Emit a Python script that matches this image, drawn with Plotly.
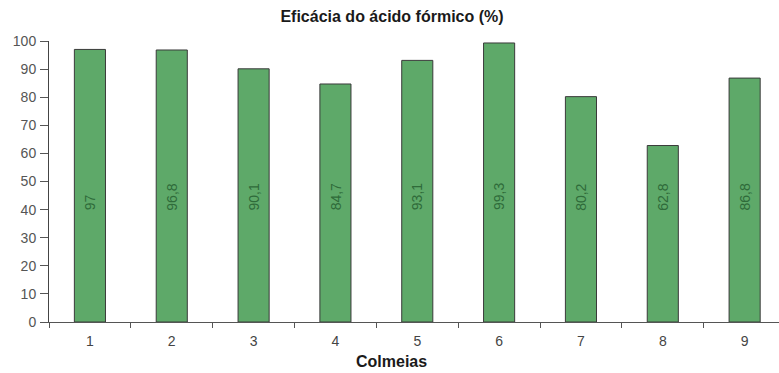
import plotly.graph_objects as go

colmeias = ["1", "2", "3", "4", "5", "6", "7", "8", "9"]
eficacia = [97, 96.8, 90.1, 84.7, 93.1, 99.3, 80.2, 62.8, 86.8]
y_ticks = [0, 10, 20, 30, 40, 50, 60, 70, 80, 90, 100]

FONT = "Liberation Sans, Arial, sans-serif"


def fmt(v):
    s = f"{v:g}"
    return s.replace(".", ",")


fig = go.Figure()
fig.add_trace(go.Bar(
    x=colmeias,
    y=eficacia,
    width=0.38,
    marker=dict(color="#5ea969", line=dict(color="#3a3a3a", width=1)),
    hoverinfo="skip",
))

# value labels written vertically inside each bar (category axis -> index position)
for i, v in enumerate(eficacia):
    fig.add_annotation(
        x=i, y=39, text=fmt(v), textangle=-90,
        showarrow=False, xanchor="center", yanchor="bottom",
        font=dict(family=FONT, size=14, color="#2f6b3a"),
    )

# x-axis title
fig.add_annotation(
    xref="paper", yref="paper", x=(391 - 49) / 730, y=-0.142,
    text="<b>Colmeias</b>", showarrow=False,
    xanchor="center", yanchor="middle",
    font=dict(family=FONT, size=16, color="#1a1a1a"),
)

fig.update_layout(
    width=779, height=373,
    margin=dict(l=49, r=0, t=41, b=51),
    paper_bgcolor="white", plot_bgcolor="white",
    showlegend=False,
    bargap=0.62,
    title=dict(
        text="<b>Eficácia do ácido fórmico (%)</b>",
        x=392 / 779, xanchor="center", y=0.955, yanchor="middle",
        font=dict(family=FONT, size=16, color="#1a1a1a"),
    ),
    font=dict(family=FONT),
)

fig.update_xaxes(
    type="category",
    range=[-0.5, 8.42],
    showline=True, linecolor="#555", linewidth=1,
    ticks="outside", tickson="boundaries", ticklen=5, tickcolor="#555",
    tickfont=dict(family=FONT, size=14, color="#444"),
    ticklabelstandoff=6,
    showgrid=False,
)

fig.update_yaxes(
    range=[0, 100],
    tickvals=y_ticks,
    showline=True, linecolor="#444", linewidth=1,
    ticks="outside", ticklen=8, tickcolor="#555",
    tickfont=dict(family=FONT, size=14, color="#555"),
    ticklabelstandoff=1,
    showgrid=False, zeroline=False,
)

fig.write_html("out.html")
